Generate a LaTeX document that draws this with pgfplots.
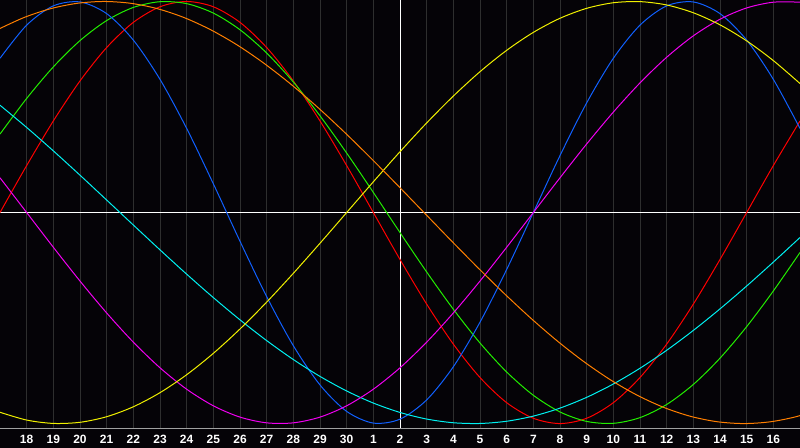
\documentclass[border=0pt]{standalone}
\usepackage{pgfplots}
\pgfplotsset{compat=1.18}
\usepackage{fontspec}
\setmainfont{Liberation Sans}
\definecolor{bg}{HTML}{050307}
\definecolor{gridc}{HTML}{2E2E2E}
\definecolor{bordc}{HTML}{A0A0A0}
\definecolor{cred}{HTML}{FF0000}
\definecolor{cgreen}{HTML}{22EE00}
\definecolor{cblue}{HTML}{1060FF}
\definecolor{ccyan}{HTML}{00F0F0}
\definecolor{cmag}{HTML}{F000F0}
\definecolor{cyel}{HTML}{F0F000}
\definecolor{corange}{HTML}{FF7F00}
\begin{document}
\begin{tikzpicture}
\fill[bg] (0,-20bp) rectangle (800bp,428bp);
\begin{axis}[
  at={(0,0)}, anchor=south west,
  scale only axis, width=800bp, height=428bp,
  xmin=0, xmax=30, ymin=-1.021, ymax=1.007,
  axis line style={draw=none},
  ytick=\empty,
  xtick={1,2,3,4,5,6,7,8,9,10,11,12,13,14,15,16,17,18,19,20,21,22,23,24,25,26,27,28,29},
  xticklabels={18,19,20,21,22,23,24,25,26,27,28,29,30,1,2,3,4,5,6,7,8,9,10,11,12,13,14,15,16},
  major tick length=0pt,
  xmajorgrids, grid style={gridc, line width=1bp},
  xticklabel style={font=\fontsize{12bp}{14bp}\selectfont\bfseries, text=white, inner sep=0pt, anchor=north, yshift=-7bp},
  every axis plot/.append style={line width=1bp, no markers},
]
\addplot[white] coordinates {(15,-1.1) (15,1.1)};
\addplot[white] coordinates {(0,0) (30,0)};
% red, period 28
\addplot[cred, smooth] coordinates {(0,0) (1,0.2225) (2,0.4339) (3,0.6235) (4,0.7818) (5,0.9010) (6,0.9749) (7,1) (8,0.9749) (9,0.9010) (10,0.7818) (11,0.6235) (12,0.4339) (13,0.2225) (14,0) (15,-0.2225) (16,-0.4339) (17,-0.6235) (18,-0.7818) (19,-0.9010) (20,-0.9749) (21,-1) (22,-0.9749) (23,-0.9010) (24,-0.7818) (25,-0.6235) (26,-0.4339) (27,-0.2225) (28,0) (29,0.2225) (30,0.4339)};
% green, period 33
\addplot[cgreen, smooth] coordinates {(0,0.3717) (1,0.5406) (2,0.6901) (3,0.8146) (4,0.9096) (5,0.9718) (6,0.9989) (7,0.9898) (8,0.9450) (9,0.8660) (10,0.7557) (11,0.6182) (12,0.4582) (13,0.2817) (14,0.0951) (15,-0.0951) (16,-0.2817) (17,-0.4582) (18,-0.6182) (19,-0.7557) (20,-0.8660) (21,-0.9450) (22,-0.9898) (23,-0.9989) (24,-0.9718) (25,-0.9096) (26,-0.8146) (27,-0.6901) (28,-0.5406) (29,-0.3717) (30,-0.1893)};
% blue, period 23
\addplot[cblue, smooth] coordinates {(0,0.7308) (1,0.8879) (2,0.9791) (3,0.9977) (4,0.9423) (5,0.8170) (6,0.6310) (7,0.3984) (8,0.1362) (9,-0.1362) (10,-0.3984) (11,-0.6310) (12,-0.8170) (13,-0.9423) (14,-0.9977) (15,-0.9791) (16,-0.8879) (17,-0.7308) (18,-0.5196) (19,-0.2698) (20,0) (21,0.2698) (22,0.5196) (23,0.7308) (24,0.8879) (25,0.9791) (26,0.9977) (27,0.9423) (28,0.8170) (29,0.6310) (30,0.3984)};
% cyan, period 53
\addplot[ccyan, smooth] coordinates {(0,0.5084) (1,0.4031) (2,0.2921) (3,0.1769) (4,0.0592) (5,-0.0592) (6,-0.1769) (7,-0.2921) (8,-0.4031) (9,-0.5085) (10,-0.6068) (11,-0.6966) (12,-0.7765) (13,-0.8456) (14,-0.9028) (15,-0.9473) (16,-0.9786) (17,-0.9961) (18,-0.9996) (19,-0.9890) (20,-0.9646) (21,-0.9267) (22,-0.8757) (23,-0.8125) (24,-0.7378) (25,-0.6528) (26,-0.5586) (27,-0.4566) (28,-0.3482) (29,-0.2349) (30,-0.1183)};
% magenta, period 38
\addplot[cmag, smooth] coordinates {(0,0.1646) (1,0) (2,-0.1646) (3,-0.3247) (4,-0.4759) (5,-0.6142) (6,-0.7357) (7,-0.8372) (8,-0.9158) (9,-0.9694) (10,-0.9966) (11,-0.9966) (12,-0.9694) (13,-0.9158) (14,-0.8372) (15,-0.7357) (16,-0.6142) (17,-0.4759) (18,-0.3247) (19,-0.1646) (20,0) (21,0.1646) (22,0.3247) (23,0.4759) (24,0.6142) (25,0.7357) (26,0.8372) (27,0.9158) (28,0.9694) (29,0.9966) (30,0.9966)};
% yellow, period 43
\addplot[cyel, smooth] coordinates {(0,-0.9465) (1,-0.9834) (2,-0.9993) (3,-0.9940) (4,-0.9675) (5,-0.9204) (6,-0.8536) (7,-0.7686) (8,-0.6673) (9,-0.5518) (10,-0.4245) (11,-0.2881) (12,-0.1456) (13,0) (14,0.1456) (15,0.2881) (16,0.4245) (17,0.5518) (18,0.6673) (19,0.7686) (20,0.8536) (21,0.9204) (22,0.9675) (23,0.9940) (24,0.9993) (25,0.9834) (26,0.9465) (27,0.8893) (28,0.8133) (29,0.7199) (30,0.6112)};
% orange, period 48
\addplot[corange, smooth] coordinates {(-0.1,0.8660) (0.9,0.9239) (1.9,0.9659) (2.9,0.9914) (3.9,1) (4.9,0.9914) (5.9,0.9659) (6.9,0.9239) (7.9,0.8660) (8.9,0.7934) (9.9,0.7071) (10.9,0.6088) (11.9,0.5) (12.9,0.3827) (13.9,0.2588) (14.9,0.1305) (15.9,0) (16.9,-0.1305) (17.9,-0.2588) (18.9,-0.3827) (19.9,-0.5) (20.9,-0.6088) (21.9,-0.7071) (22.9,-0.7934) (23.9,-0.8660) (24.9,-0.9239) (25.9,-0.9659) (26.9,-0.9914) (27.9,-1) (28.9,-0.9914) (29.9,-0.9659) (30.9,-0.9239)};
\draw[bordc, line width=1bp] (rel axis cs:1,1) -- (rel axis cs:0,1) -- (rel axis cs:0,0) -- (rel axis cs:1,0);
\end{axis}
\pgfresetboundingbox
\useasboundingbox (0,-20bp) rectangle (800bp,428bp);
\end{tikzpicture}
\end{document}
